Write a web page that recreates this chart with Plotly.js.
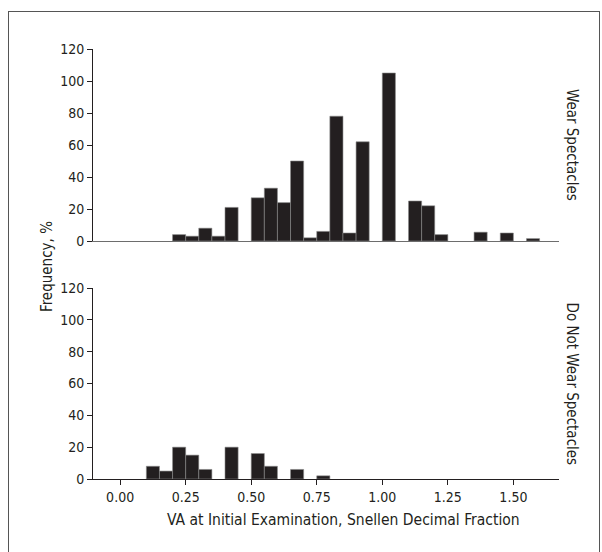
<!DOCTYPE html>
<html>
<head>
<meta charset="utf-8">
<script src="https://cdn.plot.ly/plotly-3.0.1.min.js"></script>
<style>
  html, body { margin: 0; padding: 0; background: #fff; }
  #wrap { position: relative; width: 602px; height: 552px; overflow: hidden; }
  #frame { position: absolute; left: 8px; top: 11px; width: 592px; height: 560px;
           border-left: 1.5px solid #555; border-top: 1.5px solid #555; border-right: 1.5px solid #555; box-sizing: border-box; }
  #chart { position: absolute; left: 0; top: 0; width: 602px; height: 552px; }
</style>
</head>
<body>
<div id="wrap">
  <div id="chart"></div>
  <div id="frame"></div>
</div>
<script>
// Bin centers (Snellen decimal fraction, bins of width 0.05)
var binCenters = [0.125, 0.175, 0.225, 0.275, 0.325, 0.375, 0.425, 0.475, 0.525, 0.575,
                  0.625, 0.675, 0.725, 0.775, 0.825, 0.875, 0.925, 0.975, 1.025, 1.075,
                  1.125, 1.175, 1.225, 1.275, 1.325, 1.375, 1.425, 1.475, 1.525, 1.575];
// Frequency, % — Wear Spectacles
var wearSpectacles = [0, 0, 4, 3, 8, 3, 21, 0, 27, 33,
                      24, 50, 2, 6, 78, 5, 62, 0, 105, 0,
                      25, 22, 4, 0, 0, 5.5, 0, 5, 0, 1.5];
// Frequency, % — Do Not Wear Spectacles
var notWearSpectacles = [8, 5, 20, 15, 6, 0, 20, 0, 16, 8,
                         0, 6, 0, 2, 0, 0, 0, 0, 0, 0,
                         0, 0, 0, 0, 0, 0, 0, 0, 0, 0];
var xTickVals = [0, 0.25, 0.5, 0.75, 1.0, 1.25, 1.5];
var xTickText = ['0.00', '0.25', '0.50', '0.75', '1.00', '1.25', '1.50'];
var yTickVals = [0, 20, 40, 60, 80, 100, 120];
var panelLabels = ['Wear Spectacles', 'Do Not Wear Spectacles'];
var xTitle = 'VA at Initial Examination, Snellen Decimal Fraction';
var yTitle = 'Frequency, %';

var FONT = '"DejaVu Sans Condensed", "Liberation Sans Narrow", sans-serif';
var INK = '#231f20';
var binWidth = binCenters.map(function () { return 0.05; });
// empty bins are simply not drawn
function dropEmpty(arr) { return arr.map(function (v) { return v === 0 ? null : v; }); }

var barStyle = { color: INK, line: { color: '#8a8a8a', width: 0.6 } };

var traces = [
  { type: 'bar', x: binCenters, y: dropEmpty(wearSpectacles), width: binWidth, marker: barStyle,
    xaxis: 'x', yaxis: 'y', hoverinfo: 'x+y', showlegend: false },
  { type: 'bar', x: binCenters, y: dropEmpty(notWearSpectacles), width: binWidth, marker: barStyle,
    xaxis: 'x2', yaxis: 'y2', hoverinfo: 'x+y', showlegend: false }
];

var xr = [-0.1035, 1.674];
var yAxisCommon = {
  range: [0, 120], tickvals: yTickVals, ticks: 'outside', ticklen: 5, tickwidth: 1, tickcolor: INK,
  showline: true, linecolor: INK, linewidth: 1, showgrid: false, zeroline: false,
  tickfont: { family: FONT, size: 14, color: INK }, fixedrange: true
};

var layout = {
  width: 602, height: 552,
  margin: { l: 93, r: 43, t: 49, b: 73 },
  paper_bgcolor: '#fff', plot_bgcolor: 'rgba(0,0,0,0)',
  bargap: 0,
  font: { family: FONT, color: INK },
  xaxis: {
    domain: [0, 1], range: xr, anchor: 'y', showticklabels: false, ticks: '',
    showline: true, linecolor: '#6d6d6d', linewidth: 1.2, showgrid: false, zeroline: false, fixedrange: true
  },
  yaxis: Object.assign({ domain: [0.5535, 1], anchor: 'x' }, yAxisCommon),
  xaxis2: {
    domain: [0, 1], range: xr, anchor: 'y2', tickvals: xTickVals, ticktext: xTickText,
    ticks: 'outside', ticklen: 5, tickwidth: 1, tickcolor: INK,
    showline: true, linecolor: INK, linewidth: 1, showgrid: false, zeroline: false,
    tickfont: { family: FONT, size: 14, color: INK }, fixedrange: true
  },
  yaxis2: Object.assign({ domain: [0, 0.444], anchor: 'x2' }, yAxisCommon),
  annotations: [
    { text: panelLabels[0], xref: 'paper', yref: 'paper', x: 1.028, y: 0.7768, textangle: 90,
      showarrow: false, xanchor: 'center', yanchor: 'middle', font: { family: FONT, size: 15, color: INK } },
    { text: panelLabels[1], xref: 'paper', yref: 'paper', x: 1.028, y: 0.222, textangle: 90,
      showarrow: false, xanchor: 'center', yanchor: 'middle', font: { family: FONT, size: 15, color: INK } },
    { text: yTitle, xref: 'paper', yref: 'paper', x: -0.0987, y: 0.493, textangle: -90,
      showarrow: false, xanchor: 'center', yanchor: 'middle', font: { family: FONT, size: 15, color: INK } },
    { text: xTitle, xref: 'paper', yref: 'paper', x: 0.5365, y: -0.0953,
      showarrow: false, xanchor: 'center', yanchor: 'middle', font: { family: FONT, size: 15.5, color: INK } }
  ]
};

Plotly.newPlot('chart', traces, layout, { staticPlot: true, displayModeBar: false });
</script>
</body>
</html>
